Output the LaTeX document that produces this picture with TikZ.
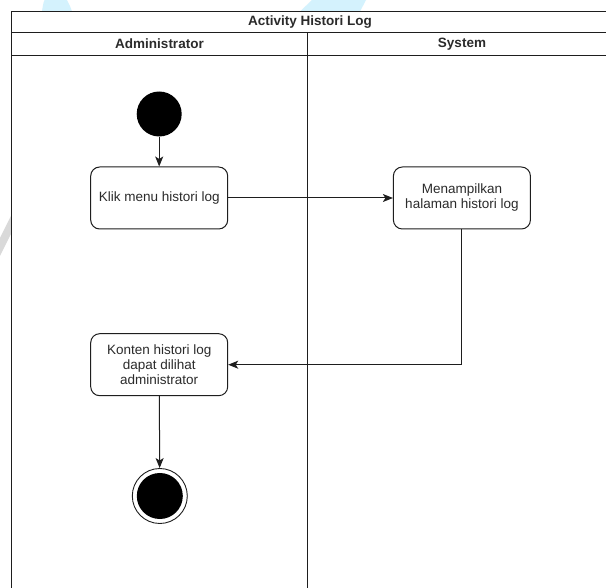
\documentclass[tikz,border=0pt]{standalone}
\usepackage{fontspec}
\setmainfont{Liberation Sans}
\usetikzlibrary{arrows.meta,positioning}
\definecolor{ink}{HTML}{1E1E1E}
\definecolor{txt}{HTML}{2B2B2B}
\definecolor{wmblue}{HTML}{D4F2FD}
\definecolor{wmgray}{HTML}{D9D9D9}
\tikzset{
  lane/.style={draw=ink, line width=1pt, fill=white},
  action/.style={draw=ink, line width=1pt, fill=white, rounded corners=9pt,
    minimum width=137pt, minimum height=62pt, inner sep=0pt,
    align=center, text=txt, font=\fontsize{13.5}{15}\selectfont},
  header/.style={text=txt, font=\bfseries\fontsize{13.5}{15}\selectfont, inner sep=0pt},
  startstate/.style={circle, fill=black, minimum size=45pt, inner sep=0pt},
  endouter/.style={circle, draw=ink, line width=0.9pt, fill=white, minimum size=55pt, inner sep=0pt},
  endinner/.style={circle, fill=black, minimum size=46pt, inner sep=0pt},
  flow/.style={draw=ink, line width=1pt, -{Stealth[length=10pt,width=8pt,inset=2.5pt]}},
}
\begin{document}
\begin{tikzpicture}[x=1pt, y=-1pt]
\useasboundingbox (0,0) rectangle (606,588);
\clip (0,0) rectangle (606,588);
\fill[white] (0,0) rectangle (606,588);

% faint background logo strokes showing in the margins
\fill[wmblue] (42,11.5) .. controls (43,4) and (44,0) .. (45,0) -- (67,0)
  .. controls (69,4) and (71,8) .. (72,11.5) -- cycle;
\fill[wmblue] (300,11.5) -- (312,0) -- (366,0) -- (360,11.5) -- cycle;
\fill[wmgray] (0,238) -- (11,216) -- (11,234) -- (0,256) -- cycle;

% swimlane frame
\draw[lane] (11,11.5) rectangle (610,592);
\draw[ink, line width=1pt] (11,32.5) -- (610,32.5);
\draw[ink, line width=1pt] (11,55.5) -- (610,55.5);
\draw[ink, line width=1pt] (307.7,32.5) -- (307.7,592);

\node[header] (title) at (310,22.5) {Activity Histori Log};
\node[header] (admin) at (159.5,44) {Administrator};
\node[header] (sys) at (462,44) {System};

% activity flow
\node[startstate] (start) at (159.2,114) {};
\node[action] (klik) at (159.2,198) {Klik menu histori log};
\node[action] (tampil) at (461.9,198) {Menampilkan\\halaman histori log};
\node[action] (konten) at (159.2,364.7) {Konten histori log\\dapat dilihat\\administrator};
\node[endouter] (stop) at (159.8,496) {};
\node[endinner] (stopdot) at (stop.center) {};

\draw[flow] (start) -- (klik);
\draw[flow] (klik) -- (tampil);
\draw[flow] (tampil.south) |- (konten.east);
\draw[flow] (konten) -- (stop);
\end{tikzpicture}
\end{document}
